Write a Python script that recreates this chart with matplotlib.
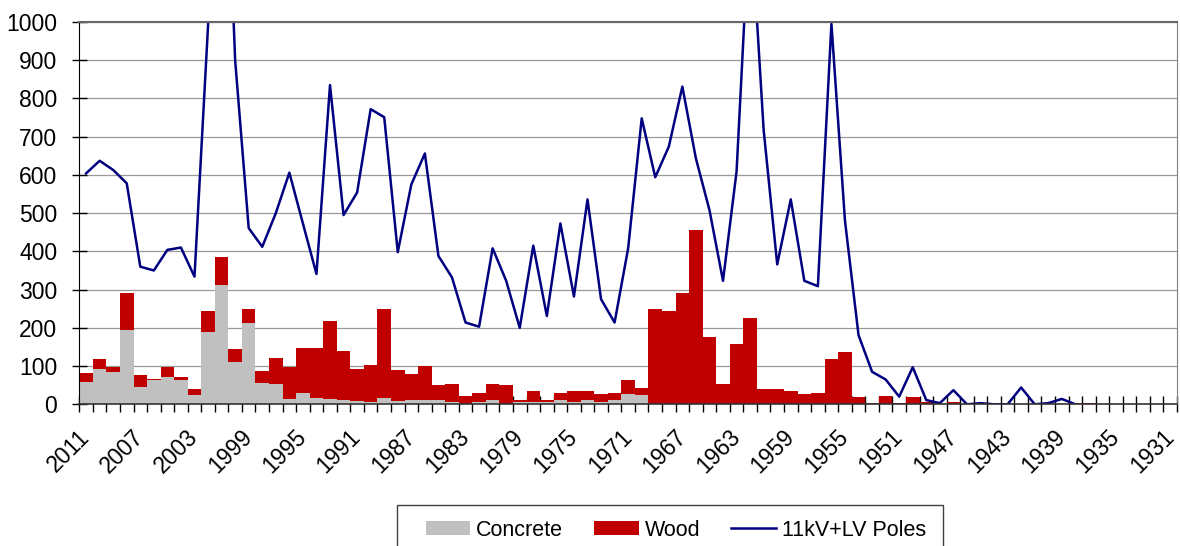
import matplotlib
matplotlib.use("Agg")
import matplotlib.pyplot as plt
import numpy as np
from matplotlib.patches import Rectangle

plt.rcParams["font.family"] = ["Liberation Sans", "DejaVu Sans"]

years = list(range(2011, 1930, -1))

concrete = [58, 92, 84, 194, 44, 64, 71, 64, 24, 188,
            311, 111, 212, 57, 54, 14, 30, 17, 14, 12,
            9, 6, 16, 9, 12, 10, 10, 6, 2, 6,
            10, 2, 6, 6, 6, 12, 6, 12, 6, 12,
            26, 24, 0, 0, 0, 0, 0, 0, 0, 0,
            0, 0, 0, 0, 0, 0, 0, 0, 0, 0,
            0, 0, 0, 0, 0, 0, 0, 0, 0, 0,
            0, 0, 0, 0, 0, 0, 0, 0, 0, 0,
            0]

wood = [23, 26, 14, 98, 33, 2, 27, 7, 17, 57,
        73, 33, 36, 31, 66, 84, 116, 129, 203, 128,
        84, 98, 232, 82, 68, 89, 40, 46, 21, 24,
        42, 48, 6, 28, 6, 18, 28, 22, 20, 18,
        37, 19, 248, 245, 292, 456, 177, 53, 157, 225,
        40, 40, 36, 26, 29, 118, 138, 20, 3, 23,
        3, 20, 5, 0, 5, 0, 0, 0, 0, 0,
        0, 0, 0, 3, 3, 0, 0, 0, 0, 0,
        0]

poles = [604, 637, 613, 578, 360, 350, 404, 410, 334, 990,
         1800, 900, 461, 412, 500, 606, 473, 341, 835, 495,
         554, 772, 751, 398, 575, 656, 388, 332, 214, 203,
         408, 323, 200, 415, 231, 473, 282, 536, 275, 214,
         408, 748, 594, 674, 831, 643, 508, 323, 609, 1300,
         717, 366, 536, 323, 309, 995, 480, 181, 85, 65,
         20, 97, 11, 3, 37, 0, 3, 0, 0, 44,
         0, 3, 14, 0, np.nan, np.nan, np.nan, np.nan, np.nan, np.nan,
         np.nan]

W, H = 1180, 546
fig = plt.figure(figsize=(W / 100, H / 100), dpi=100)
ax = fig.add_axes([79.3 / W, 1 - 404.3 / H, (1177 - 79.3) / W, (404.3 - 22) / H])

x = np.arange(len(years))
b1 = ax.bar(x, concrete, width=1.0, color="#C0C0C0", linewidth=0, label="Concrete")
b2 = ax.bar(x, wood, bottom=concrete, width=1.0, color="#C00000", linewidth=0, label="Wood")
ln, = ax.plot(x, poles, color="#000080", lw=1.8, label="11kV+LV Poles")

ax.set_xlim(-0.5, len(years) - 0.5)
ax.set_ylim(0, 1000)
ax.set_yticks(range(0, 1001, 100))
ax.yaxis.grid(True, color="#999999", lw=0.9)
ax.set_axisbelow(True)

ax.set_xticks(x[::4])
ax.set_xticklabels([str(y) for y in years[::4]])
ax.set_xticks(np.arange(-0.5, len(years), 1), minor=True)
ax.tick_params(axis="x", which="major", length=0, pad=21, labelsize=16.5)
ax.tick_params(axis="x", which="minor", direction="inout", length=12, width=1, color="black")
plt.setp(ax.get_xticklabels(), rotation=45, ha="right", va="center", rotation_mode="anchor")
ax.tick_params(axis="y", direction="inout", length=10.8, width=1, pad=10.4, labelsize=16.5)

ax.spines["top"].set_color("#666666")
ax.spines["top"].set_linewidth(1.5)
ax.spines["right"].set_color("#808080")
ax.spines["left"].set_color("black")
ax.spines["bottom"].set_color("#333333")
ax.spines["bottom"].set_linewidth(1.2)

# legend box runs off the bottom of the picture
fig.patches.append(Rectangle((397 / W, -0.05), (943 - 397) / W, (1 - 505 / H) + 0.05,
                             transform=fig.transFigure, fill=False, edgecolor="#404040", lw=1))
fig.legend([b1, b2, ln], ["Concrete", "Wood", "11kV+LV Poles"], loc="center left",
           bbox_to_anchor=(426 / W, 1 - 530 / H), ncol=3, frameon=False, borderpad=0,
           borderaxespad=0, fontsize=15.5, handlelength=2.05, handletextpad=0.28,
           columnspacing=1.45, handleheight=0.64)

fig.savefig("out.png", dpi=100)
